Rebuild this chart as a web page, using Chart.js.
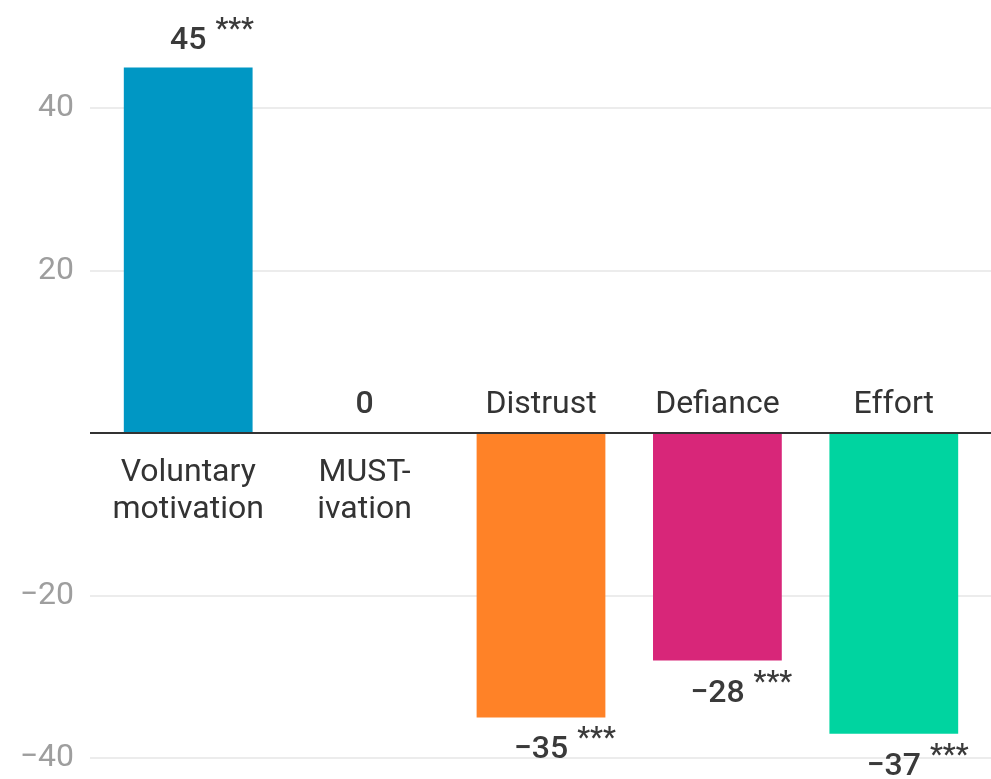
<!DOCTYPE html>
<html>
<head>
<meta charset="utf-8">
<script src="https://cdn.jsdelivr.net/npm/chart.js@4"></script>
<style>
  html, body { margin: 0; padding: 0; background: #fff; }
  #wrap { width: 991px; height: 779px; }
</style>
</head>
<body>
<div id="wrap"><canvas id="chart"></canvas></div>
<script>
const categories = [['Voluntary', 'motivation'], ['MUST-', 'ivation'], ['Distrust'], ['Defiance'], ['Effort']];
const values = [45, 0, -35, -28, -37];
const stars = ['***', '', '***', '***', '***'];
const barColors = ['#0097c4', '#0097c4', '#ff8227', '#d82679', '#00d4a0'];
const yTicks = [-40, -20, 0, 20, 40];

const FONT = 'Roboto, "Noto Sans", sans-serif';
const fmt = v => (v < 0 ? '\u2212' + Math.abs(v) : String(v));

// grid lines run a bit past the plot area on both sides
const gridPlugin = {
  id: 'grid',
  beforeDatasetsDraw(chart) {
    const ctx = chart.ctx;
    const y = chart.scales.y;
    ctx.save();
    yTicks.forEach(t => {
      if (t === 0) return;
      const py = Math.round(y.getPixelForValue(t));
      ctx.beginPath();
      ctx.moveTo(90, py);
      ctx.lineTo(chart.width, py);
      ctx.strokeStyle = '#e6e6e6';
      ctx.lineWidth = 1.5;
      ctx.stroke();
    });
    ctx.restore();
  },
  afterDatasetsDraw(chart) {
    const ctx = chart.ctx;
    const py = Math.round(chart.scales.y.getPixelForValue(0));
    ctx.save();
    ctx.beginPath();
    ctx.moveTo(90, py);
    ctx.lineTo(chart.width, py);
    ctx.strokeStyle = '#333';
    ctx.lineWidth = 2;
    ctx.stroke();
    ctx.restore();
  }
};

const labelPlugin = {
  id: 'labels',
  afterDatasetsDraw(chart) {
    const ctx = chart.ctx;
    const zero = chart.scales.y.getPixelForValue(0);
    const meta = chart.getDatasetMeta(0);
    ctx.save();
    ctx.textBaseline = 'alphabetic';
    meta.data.forEach((bar, i) => {
      const v = values[i];
      const x = bar.x;
      // value label
      ctx.font = '500 32px ' + FONT;
      ctx.fillStyle = '#3a3a3a';
      ctx.textAlign = 'center';
      let base;
      if (v > 0) base = bar.y - 19;
      else if (v < 0) base = bar.y + 41;
      else base = zero - 20;
      const txt = fmt(v);
      ctx.fillText(txt, x, base);
      if (stars[i]) {
        const w = ctx.measureText(txt).width;
        ctx.font = '500 29px ' + FONT;
        ctx.textAlign = 'left';
        ctx.fillText(stars[i], x + w / 2 + 9, base - 11);
      }
      // category label
      ctx.font = '400 32px ' + FONT;
      ctx.fillStyle = '#333';
      ctx.textAlign = 'center';
      const lines = categories[i];
      if (v < 0) {
        lines.slice().reverse().forEach((l, k) => ctx.fillText(l, x, zero - 20 - k * 37));
      } else {
        lines.forEach((l, k) => ctx.fillText(l, x, zero + 48 + k * 37));
      }
    });
    ctx.restore();
  }
};

new Chart(document.getElementById('chart'), {
  type: 'bar',
  data: {
    labels: categories.map(c => c.join(' ')),
    datasets: [{
      data: values,
      backgroundColor: barColors,
      borderWidth: 0,
      categoryPercentage: 1,
      barPercentage: 0.73
    }]
  },
  options: {
    responsive: true,
    maintainAspectRatio: false,
    animation: false,
    layout: { padding: { top: 27, bottom: 21, right: 9, left: 0 } },
    plugins: { legend: { display: false }, tooltip: { enabled: false } },
    scales: {
      x: { display: false, offset: true },
      y: {
        min: -40,
        max: 50,
        grid: { display: false },
        border: { display: false },
        afterBuildTicks: s => { s.ticks = yTicks.map(v => ({ value: v })); },
        afterFit: s => { s.width = 100; s.paddingTop = 0; s.paddingBottom = 0; },
        ticks: {
          padding: 18,
          color: '#9e9e9e',
          font: { family: FONT, size: 32 },
          callback: v => (v === 0 ? '' : fmt(v))
        }
      }
    }
  },
  plugins: [gridPlugin, labelPlugin]
});
</script>
</body>
</html>
